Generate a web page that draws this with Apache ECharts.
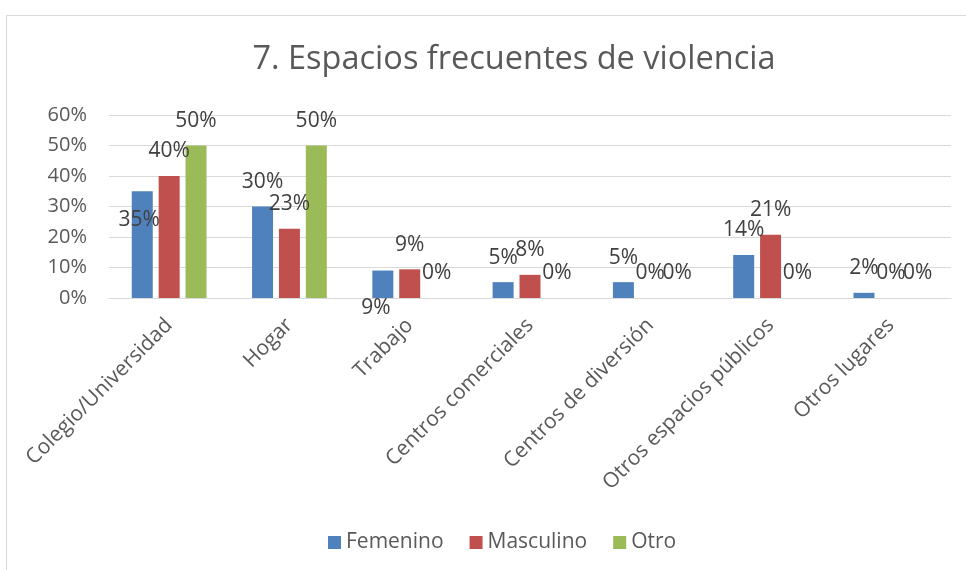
<!DOCTYPE html>
<html>
<head>
<meta charset="utf-8">
<script src="https://cdn.jsdelivr.net/npm/echarts@6/dist/echarts.min.js"></script>
<style>
    html, body {margin: 0; padding: 0; background: #fff;}
    #chart {width: 966px; height: 570px;}
</style>
</head>
<body>
<div id="chart"></div>
<script>
const categories = ['Colegio/Universidad', 'Hogar', 'Trabajo', 'Centros comerciales', 'Centros de diversión', 'Otros espacios públicos', 'Otros lugares'];
const femenino = [0.35, 0.30, 0.09, 0.052, 0.052, 0.141, 0.017];
const masculino = [0.40, 0.227, 0.094, 0.076, 0, 0.207, 0];
const otro = [0.50, 0.50, 0, 0, 0, 0, 0];
const yTicks = [0, 0.1, 0.2, 0.3, 0.4, 0.5, 0.6];

// Excel puso algunas etiquetas fuera de sitio: desplazamientos [dx, dy]
const femeninoLabelShift = {0: [-3, 53], 2: [-7, 62]};

const chart = echarts.init(document.getElementById('chart'));

const pct = p => Math.round(p.value * 100) + '%';

const makeData = (values, shifts) => values.map((v, i) => {
    if (shifts && shifts[i]) {
        return {value: v, label: {offset: shifts[i]}};
    }
    return v;
});

const makeSeries = (name, values, color, shifts) => ({
    type: 'bar',
    name: name,
    data: makeData(values, shifts),
    barWidth: 21,
    barGap: '28%',
    itemStyle: {color: color},
    label: {
        show: true,
        position: 'top',
        distance: 14,
        formatter: pct,
        color: '#404040',
        fontSize: 21,
        fontFamily: 'Open Sans'
    }
});

const option = {
    animation: false,
    textStyle: {fontFamily: 'Open Sans'},
    title: {
        text: '7. Espacios frecuentes de violencia',
        left: 509,
        textAlign: 'center',
        top: 38,
        textStyle: {fontSize: 32.5, fontWeight: 'normal', color: '#595959', fontFamily: 'Open Sans'}
    },
    graphic: [{
        type: 'rect',
        shape: {x: 6.5, y: 15.5, width: 1000, height: 700},
        style: {fill: 'none', stroke: '#D9D9D9', lineWidth: 1},
        silent: true
    }],
    legend: {
        data: ['Femenino', 'Masculino', 'Otro'],
        left: 323,
        top: 527,
        itemWidth: 13,
        itemHeight: 13,
        itemGap: 26,
        icon: 'rect',
        textStyle: {fontSize: 21, color: '#595959', fontFamily: 'Open Sans'}
    },
    grid: {left: 109, right: 15, top: 115, bottom: 272},
    xAxis: {
        type: 'category',
        data: categories,
        axisLine: {lineStyle: {color: '#D9D9D9', width: 1}},
        axisTick: {show: false},
        axisLabel: {rotate: 45, fontSize: 21, color: '#595959', margin: 24, interval: 0}
    },
    yAxis: {
        type: 'value',
        min: yTicks[0],
        max: yTicks[yTicks.length - 1],
        interval: 0.1,
        axisLine: {show: false},
        axisTick: {show: false},
        splitLine: {lineStyle: {color: '#D9D9D9', width: 1}},
        axisLabel: {
            fontSize: 20,
            color: '#595959',
            margin: 22,
            formatter: v => Math.round(v * 100) + '%'
        }
    },
    series: [
        makeSeries('Femenino', femenino, '#4F81BD', femeninoLabelShift),
        makeSeries('Masculino', masculino, '#C0504D'),
        makeSeries('Otro', otro, '#9BBB59')
    ]
};

chart.setOption(option);
</script>
</body>
</html>
